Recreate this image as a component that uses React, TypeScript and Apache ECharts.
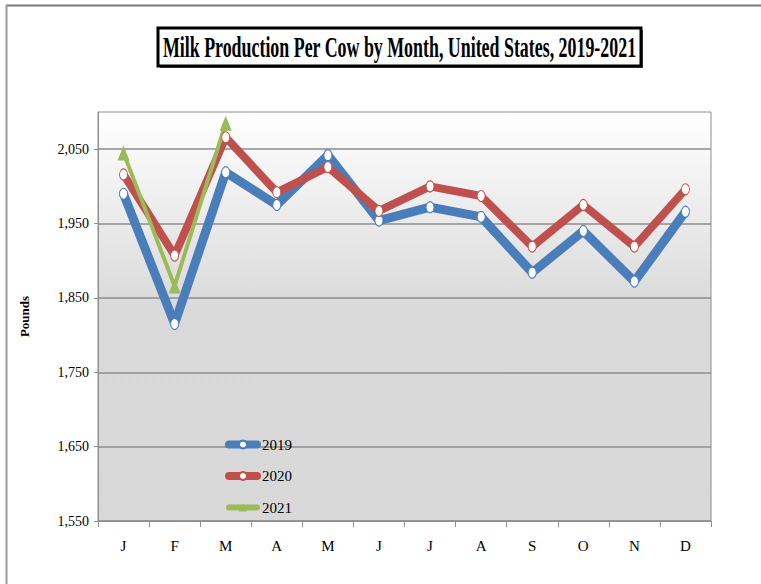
import React, { useEffect, useRef } from "react";
import * as echarts from "echarts";

const months = ["J", "F", "M", "A", "M", "J", "J", "A", "S", "O", "N", "D"];
const series2019 = [1990, 1815, 2019, 1975, 2042, 1954, 1972, 1959, 1884, 1940, 1872, 1966];
const series2020 = [2016, 1907, 2066, 1992, 2026, 1967, 2000, 1987, 1919, 1975, 1919, 1996];
const series2021 = [2045, 1866, 2085];
const yTicks = [1550, 1650, 1750, 1850, 1950, 2050];
const titleText = "Milk Production Per Cow by Month, United States, 2019-2021";

const SERIF = '"Liberation Serif", "Times New Roman", serif';

function measure(text: string, font: string): number {
  const c = document.createElement("canvas");
  const ctx = c.getContext("2d");
  if (!ctx) return text.length * 10;
  ctx.font = font;
  return ctx.measureText(text).width;
}

export default function App() {
  const ref = useRef<HTMLDivElement>(null);
  useEffect(() => {
    if (!ref.current) return;
    const chart = echarts.init(ref.current, undefined, { renderer: "svg" });
    const titleSize = 29;
    const w = measure(titleText, `bold ${titleSize}px "Liberation Serif"`);
    const titleScaleX = 474 / w;

    const C19 = "#4a7ebb";
    const C20 = "#c0504d";
    const C21 = "#9bbb59";

    const lineSeries = (name: string, data: number[], color: string, width: number, symbol: string, size: any, filled: boolean) => ({
      name,
      type: "line",
      data,
      symbol,
      symbolSize: size,
      showSymbol: true,
      lineStyle: { color, width, cap: "round", join: "round" },
      itemStyle: filled
        ? { color, borderColor: color, borderWidth: 0 }
        : { color: "#ffffff", borderColor: color, borderWidth: 1 },
      emphasis: { disabled: true },
    });

    chart.setOption({
      animation: false,
      backgroundColor: "#ffffff",
      grid: {
        left: 98,
        right: 50,
        top: 112,
        bottom: 63,
        show: true,
        borderColor: "#8e8e8e",
        borderWidth: 1,
        backgroundColor: new echarts.graphic.LinearGradient(0, 0, 0, 1, [
          { offset: 0, color: "#ffffff" },
          { offset: 0.47, color: "#dadada" },
          { offset: 1, color: "#d8d8d8" },
        ]),
      },
      xAxis: {
        type: "category",
        data: months,
        boundaryGap: true,
        axisLine: { lineStyle: { color: "#8e8e8e", width: 1 } },
        axisTick: { show: true, length: 6, lineStyle: { color: "#8e8e8e" } },
        axisLabel: { fontFamily: SERIF, fontSize: 15, color: "#000", margin: 17 },
        splitLine: { show: false },
      },
      yAxis: {
        type: "value",
        min: 1550,
        max: 2100,
        name: "Pounds",
        nameLocation: "middle",
        nameRotate: 90,
        nameGap: 67,
        nameTextStyle: { fontFamily: SERIF, fontSize: 13, fontWeight: "bold", color: "#000" },
        axisLine: { show: true, lineStyle: { color: "#8e8e8e", width: 1 } },
        axisTick: { show: true, length: 4, customValues: yTicks, lineStyle: { color: "#8e8e8e" } },
        axisLabel: {
          customValues: yTicks,
          fontFamily: SERIF,
          fontSize: 14,
          color: "#000",
          margin: 9,
          formatter: (v: number) => v.toLocaleString("en-US"),
        },
        splitLine: { show: true, lineStyle: { color: "#8c8c8c", width: 1.5 } },
      },
      legend: {
        orient: "vertical",
        left: 220,
        top: 432,
        itemWidth: 28,
        itemHeight: 10,
        itemGap: 16.5,
        textStyle: { fontFamily: SERIF, fontSize: 15, color: "#000" },
        data: [
          { name: "2019", lineStyle: { width: 8, color: C19, cap: "round" } },
          { name: "2020", lineStyle: { width: 8, color: C20, cap: "round" } },
          { name: "2021", lineStyle: { width: 6, color: C21, cap: "round" } },
        ],
      },
      series: [
        lineSeries("2019", series2019, C19, 9, "circle", [8, 11], false),
        lineSeries("2020", series2020, C20, 8, "circle", [8, 11], false),
        lineSeries("2021", series2021, C21, 4, "triangle", [12, 15], true),
      ],
      graphic: [
        {
          type: "line",
          shape: { x1: 6, y1: 5.5, x2: 761, y2: 5.5 },
          style: { stroke: "#7a7a7a", lineWidth: 2 },
          silent: true,
        },
        {
          type: "line",
          shape: { x1: 6.5, y1: 5, x2: 6.5, y2: 584 },
          style: { stroke: "#9a9a9a", lineWidth: 2 },
          silent: true,
        },
        {
          type: "rect",
          shape: { x: 160, y: 30, width: 483, height: 38 },
          style: { fill: "#555555", stroke: null },
          silent: true,
        },
        {
          type: "rect",
          shape: { x: 158, y: 28, width: 483, height: 38 },
          style: { fill: "#ffffff", stroke: "#000000", lineWidth: 3 },
          silent: true,
        },
        {
          type: "text",
          x: 399.5,
          y: 47,
          scaleX: titleScaleX,
          scaleY: 1,
          style: {
            text: titleText,
            font: `bold ${titleSize}px "Liberation Serif", "Times New Roman", serif`,
            fill: "#000",
            textAlign: "center",
            textVerticalAlign: "middle",
          },
          silent: true,
        },
      ],
    });
    return () => chart.dispose();
  }, []);
  return (
    <div
      ref={ref}
      style={{ position: "fixed", left: 0, top: 0, width: 761, height: 584 }}
    />
  );
}
